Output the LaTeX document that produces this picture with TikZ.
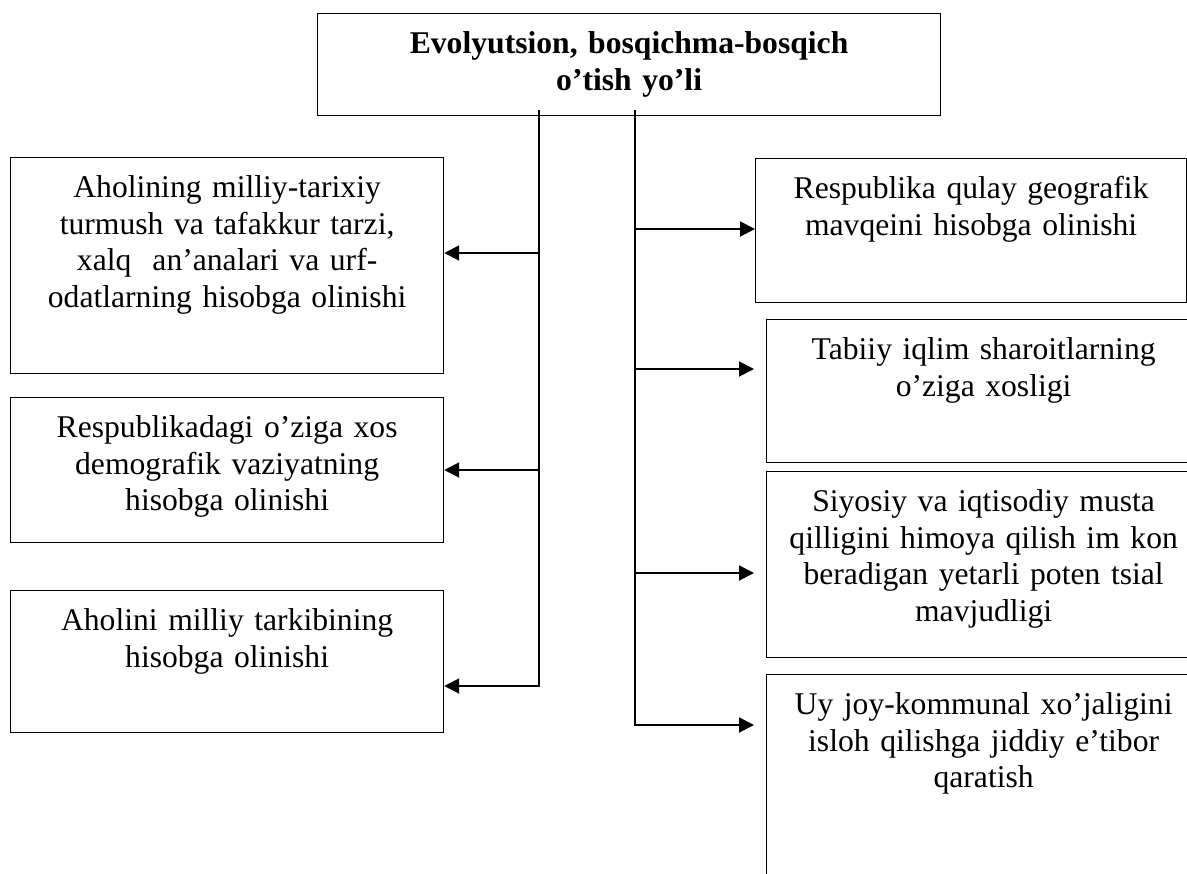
\documentclass[tikz,border=0pt]{standalone}
\usepackage{fontspec}
\setmainfont{Liberation Serif}
\usetikzlibrary{arrows.meta}
\usetikzlibrary{positioning}
\tikzset{>={Triangle[length=0.3cm,width=0.3cm]}}
\tikzstyle{blok} = [draw, line width=0.7pt, anchor=north west, inner sep=0pt,
align=center, text height=0.8cm, font=\fontsize{18}{20.8}\selectfont]
\tikzstyle{line} = [draw, line width=1.1pt, ->]

\begin{document}
\begin{tikzpicture}[auto,
		left/.style={text width=8.66cm},
		right/.style={text width=8.68cm}]
		\useasboundingbox (0,0) rectangle (23.74,-17.46);
		\clip (0,0) rectangle (23.74,-17.46);
		\node [blok, text width=12.46cm, text depth=1.24cm,
			font=\fontsize{18}{20.8}\selectfont\bfseries] (T) at (6.34,-0.26)
			{Evolyutsion, bosqichma-bosqich\\ o’tish yo’li};
		%% left column
		\node [blok, left, text depth=3.52cm] (L1) at (0.2,-3.14)
			{Aholining milliy-tarixiy\\ turmush va tafakkur tarzi,\\ xalq\ \ an’analari va urf-\\ odatlarning hisobga olinishi};
		\node [blok, left, text depth=2.10cm] (L2) at (0.2,-7.94)
			{Respublikadagi o’ziga xos\\ demografik vaziyatning\\ hisobga olinishi};
		\node [blok, left, text depth=2.04cm] (L3) at (0.2,-11.8)
			{Aholini milliy tarkibining\\ hisobga olinishi};
		%% right column
		\node [blok, text width=8.62cm, text depth=2.08cm] (R1) at (15.1,-3.16)
			{Respublika qulay geografik\\ mavqeini hisobga olinishi};
		\node [blok, right, text depth=2.06cm] (R2) at (15.32,-6.38)
			{Tabiiy iqlim sharoitlarning\\ o’ziga xosligi};
		\node [blok, right, text depth=2.92cm] (R3) at (15.32,-9.42)
			{Siyosiy va iqtisodiy musta\\ qilligini himoya qilish im kon\\ beradigan yetarli poten tsial\\ mavjudligi};
		\node [blok, right, text depth=3.72cm] (R4) at (15.32,-13.48)
			{Uy joy-kommunal xo’jaligini\\ isloh qilishga jiddiy e’tibor\\ qaratish};
		%% spines
		\coordinate (sl) at (10.78,-2.2);
		\coordinate (sr) at (12.70,-2.2);
		\coordinate (l1) at (10.78,-5.06);
		\coordinate (l2) at (10.78,-9.40);
		\coordinate (l3) at (10.78,-13.72);
		\coordinate (r1) at (12.70,-4.58);
		\coordinate (r2) at (12.70,-7.38);
		\coordinate (r3) at (12.70,-11.46);
		\coordinate (r4) at (12.70,-14.50);
		\path [line] (sl) |- (l3 -| L3.east);
		\path [line] (l1) -- (l1 -| L1.east);
		\path [line] (l2) -- (l2 -| L2.east);
		\path [line, shorten >=0.24cm] (sr) |- (r4 -| R4.west);
		\path [line] (r1) -- (r1 -| R1.west);
		\path [line, shorten >=0.24cm] (r2) -- (r2 -| R2.west);
		\path [line, shorten >=0.24cm] (r3) -- (r3 -| R3.west);
	\end{tikzpicture}
\end{document}
